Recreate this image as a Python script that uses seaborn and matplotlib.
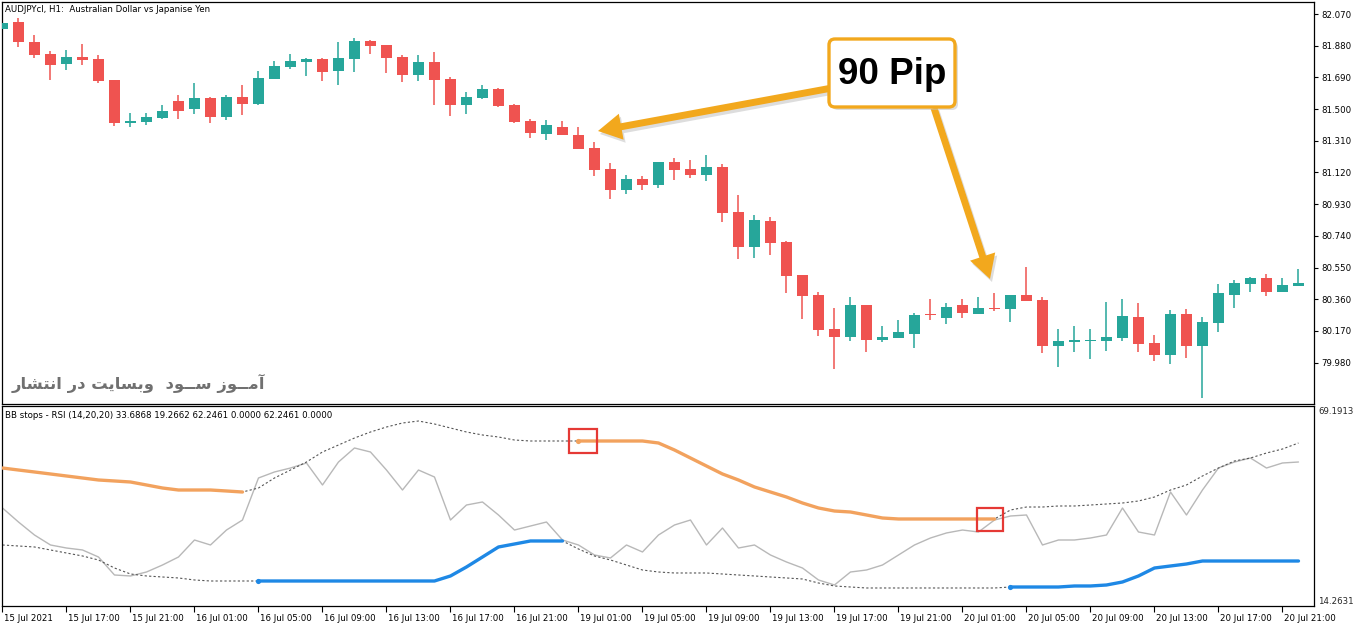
import numpy as np
import pandas as pd
import matplotlib
matplotlib.use("Agg")
import matplotlib.pyplot as plt
import matplotlib.transforms as mtransforms
from matplotlib.patches import FancyArrowPatch, FancyBboxPatch, Rectangle, ArrowStyle
import seaborn as sns

sns.set_theme(style="white")
plt.rcParams['font.family'] = ['DejaVu Sans']

# ---------------- data ----------------
bar_labels = ["15 Jul 2021", "15 Jul 17:00", "15 Jul 21:00", "16 Jul 01:00", "16 Jul 05:00",
              "16 Jul 09:00", "16 Jul 13:00", "16 Jul 17:00", "16 Jul 21:00", "19 Jul 01:00",
              "19 Jul 05:00", "19 Jul 09:00", "19 Jul 13:00", "19 Jul 17:00", "19 Jul 21:00",
              "20 Jul 01:00", "20 Jul 05:00", "20 Jul 09:00", "20 Jul 13:00", "20 Jul 17:00",
              "20 Jul 21:00"]

opens = [81.980, 82.022, 81.902, 81.832, 81.772, 81.812, 81.800, 81.674, 81.417, 81.424,
         81.448, 81.548, 81.502, 81.566, 81.454, 81.572, 81.532, 81.682, 81.754, 81.784,
         81.800, 81.730, 81.802, 81.908, 81.884, 81.812, 81.706, 81.782, 81.682, 81.526,
         81.568, 81.619, 81.524, 81.430, 81.352, 81.393, 81.345, 81.267, 81.141, 81.015,
         81.081, 81.047, 81.183, 81.141, 81.107, 81.153, 80.883, 80.675, 80.831, 80.703,
         80.505, 80.385, 80.181, 80.135, 80.325, 80.116, 80.129, 80.153, 80.273, 80.249,
         80.325, 80.273, 80.307, 80.303, 80.385, 80.355, 80.081, 80.106, 80.111, 80.111,
         80.128, 80.253, 80.097, 80.027, 80.271, 80.081, 80.219, 80.387, 80.453, 80.487,
         80.403, 80.441]
highs = [82.020, 82.044, 81.946, 81.846, 81.854, 81.892, 81.824, 81.674, 81.478, 81.476,
         81.524, 81.584, 81.658, 81.574, 81.584, 81.644, 81.728, 81.790, 81.830, 81.804,
         81.806, 81.904, 81.926, 81.912, 81.886, 81.826, 81.826, 81.842, 81.690, 81.602,
         81.644, 81.625, 81.530, 81.439, 81.436, 81.430, 81.393, 81.304, 81.175, 81.105,
         81.099, 81.183, 81.207, 81.195, 81.226, 81.171, 80.985, 80.865, 80.855, 80.711,
         80.505, 80.405, 80.309, 80.375, 80.325, 80.199, 80.235, 80.276, 80.361, 80.336,
         80.361, 80.375, 80.399, 80.385, 80.551, 80.375, 80.182, 80.199, 80.182, 80.345,
         80.361, 80.339, 80.146, 80.295, 80.301, 80.253, 80.453, 80.475, 80.495, 80.511,
         80.487, 80.541]
lows = [81.975, 81.870, 81.808, 81.676, 81.734, 81.764, 81.655, 81.400, 81.394, 81.405,
        81.440, 81.440, 81.472, 81.418, 81.434, 81.464, 81.524, 81.682, 81.742, 81.700,
        81.668, 81.646, 81.724, 81.830, 81.716, 81.662, 81.668, 81.526, 81.458, 81.472,
        81.562, 81.514, 81.418, 81.327, 81.313, 81.346, 81.262, 81.101, 80.959, 80.991,
        81.017, 81.029, 81.077, 81.089, 81.071, 80.823, 80.599, 80.605, 80.623, 80.399,
        80.240, 80.141, 79.943, 80.108, 80.045, 80.106, 80.129, 80.070, 80.235, 80.210,
        80.246, 80.273, 80.288, 80.225, 80.351, 80.039, 79.955, 80.045, 80.003, 80.051,
        80.111, 80.045, 79.991, 79.970, 80.009, 79.770, 80.165, 80.309, 80.403, 80.381,
        80.403, 80.441]
closes = [82.016, 81.904, 81.826, 81.766, 81.812, 81.796, 81.670, 81.418, 81.430, 81.452,
          81.488, 81.490, 81.566, 81.454, 81.570, 81.532, 81.686, 81.758, 81.788, 81.800,
          81.724, 81.806, 81.908, 81.880, 81.808, 81.706, 81.782, 81.674, 81.526, 81.572,
          81.619, 81.518, 81.423, 81.358, 81.403, 81.346, 81.262, 81.137, 81.015, 81.081,
          81.047, 81.183, 81.137, 81.107, 81.153, 80.879, 80.675, 80.835, 80.699, 80.501,
          80.381, 80.177, 80.135, 80.325, 80.116, 80.133, 80.162, 80.265, 80.267, 80.313,
          80.279, 80.307, 80.301, 80.385, 80.351, 80.081, 80.110, 80.117, 80.117, 80.133,
          80.259, 80.093, 80.027, 80.271, 80.081, 80.223, 80.397, 80.457, 80.487, 80.403,
          80.445, 80.457]

price_ticks = [82.070, 81.880, 81.690, 81.500, 81.310, 81.120, 80.930, 80.740, 80.550,
               80.360, 80.170, 79.980]

rsi = [41.18, 37.33, 33.76, 31.02, 30.19, 29.65, 27.72, 22.78, 22.51, 23.60,
       25.52, 27.72, 32.39, 31.02, 35.13, 37.88, 49.42, 51.07, 52.16, 53.54,
       47.50, 53.81, 57.66, 56.56, 51.61, 46.12, 51.61, 49.69, 37.88, 42.00,
       42.83, 39.26, 35.13, 36.23, 37.33, 32.39, 31.02, 28.27, 27.45, 31.02,
       29.10, 33.76, 36.51, 37.88, 31.02, 35.68, 30.19, 31.02, 28.27, 26.35,
       24.70, 21.41, 20.03, 23.60, 24.15, 25.52, 28.27, 31.02, 32.94, 34.32,
       35.13, 34.59, 37.88, 38.98, 39.26, 31.02, 32.39, 32.39, 32.94, 33.76,
       41.18, 34.59, 33.76, 45.57, 39.26, 46.12, 52.16, 53.81, 54.91, 52.16,
       53.54, 53.81]

upper_band = [52.16, 51.61, 51.07, 50.52, 49.97, 49.42, 48.87, 48.60, 48.32, 47.50,
              46.67, 46.12, 46.12, 46.12, 45.85, 45.57, 46.67, 49.42, 51.61, 53.81,
              56.56, 58.48, 60.40, 62.05, 63.42, 64.52, 65.07, 64.25, 63.15, 62.05,
              61.23, 60.68, 59.85, 59.58, 59.58, 59.58, 59.58, 59.58, 59.58, 59.58,
              59.58, 59.03, 57.11, 54.91, 52.71, 50.52, 48.87, 46.95, 45.57, 44.20,
              42.55, 41.18, 40.35, 40.08, 39.26, 38.43, 38.16, 38.16, 38.16, 38.16,
              38.16, 38.16, 38.16, 40.63, 41.45, 41.45, 41.73, 41.73, 42.00, 42.28,
              42.55, 43.10, 44.20, 46.12, 47.50, 49.97, 52.16, 54.09, 54.91, 56.28,
              57.38, 59.03]

lower_band = [31.02, 30.74, 30.47, 29.65, 28.82, 28.00, 26.90, 24.70, 23.06, 22.51,
              22.23, 21.96, 21.41, 21.13, 21.13, 21.13, 21.13, 21.13, 21.13, 21.13,
              21.13, 21.13, 21.13, 21.13, 21.13, 21.13, 21.13, 21.13, 22.51, 24.98,
              27.72, 30.47, 31.29, 32.12, 32.12, 32.12, 29.92, 28.00, 26.90, 25.52,
              24.15, 23.60, 23.33, 23.33, 23.33, 23.05, 22.78, 22.51, 22.23, 21.96,
              21.68, 20.58, 19.76, 19.48, 19.21, 19.21, 19.21, 19.21, 19.21, 19.21,
              19.21, 19.21, 19.21, 19.48, 19.48, 19.48, 19.48, 19.76, 19.76, 20.03,
              20.86, 22.51, 24.70, 25.25, 25.80, 26.62, 26.62, 26.62, 26.62, 26.62,
              26.62, 26.62]

N = None
sell_stop = [52.16, 51.61, 51.07, 50.52, 49.97, 49.42, 48.87, 48.60, 48.32, 47.50,
             46.67, 46.12, 46.12, 46.12, 45.85, 45.57, N, N, N, N,
             N, N, N, N, N, N, N, N, N, N,
             N, N, N, N, N, N, 59.58, 59.58, 59.58, 59.58,
             59.58, 59.03, 57.11, 54.91, 52.71, 50.52, 48.87, 46.95, 45.57, 44.20,
             42.55, 41.18, 40.35, 40.08, 39.26, 38.43, 38.16, 38.16, 38.16, 38.16,
             38.16, 38.16, 38.16, N, N, N, N, N, N, N,
             N, N, N, N, N, N, N, N, N, N,
             N, N]

buy_stop = [N, N, N, N, N, N, N, N, N, N,
            N, N, N, N, N, N, 21.13, 21.13, 21.13, 21.13,
            21.13, 21.13, 21.13, 21.13, 21.13, 21.13, 21.13, 21.13, 22.51, 24.98,
            27.72, 30.47, 31.29, 32.12, 32.12, 32.12, N, N, N, N,
            N, N, N, N, N, N, N, N, N, N,
            N, N, N, N, N, N, N, N, N, N,
            N, N, N, 19.48, 19.48, 19.48, 19.48, 19.76, 19.76, 20.03,
            20.86, 22.51, 24.70, 25.25, 25.80, 26.62, 26.62, 26.62, 26.62, 26.62,
            26.62, 26.62]

# ---------------- figure ----------------
W, H = 1362, 628
fig = plt.figure(figsize=(W / 100, H / 100), dpi=100, facecolor="white")
pix = mtransforms.Affine2D().scale(1 / W, -1 / H).translate(0, 1) + fig.transFigure

L, R = 2, 1314
ax1 = fig.add_axes([L / W, 1 - 404 / H, (R - L) / W, 402 / H])
ax2 = fig.add_axes([L / W, 1 - 606 / H, (R - L) / W, 200 / H])

TEAL = "#26A69A"
RED = "#EF5350"
ORANGE = "#F2A25E"
BLUE = "#1E88E5"

n = len(opens)
idx = np.arange(n)
o = np.array(opens); c = np.array(closes); h = np.array(highs); lo = np.array(lows)
col = np.where(c >= o, TEAL, RED)
ax1.vlines(idx, lo, h, colors=col, lw=1.1, zorder=2)
ax1.bar(idx, np.maximum(np.abs(c - o), 0.005), bottom=np.minimum(o, c), width=0.66,
        color=col, linewidth=0, zorder=3)

ax1.set_xlim(-0.03, 81.97)
ax1.set_ylim(79.732, 82.142)
ax1.set_xticks([])
ax1.yaxis.tick_right()
ax1.set_yticks(price_ticks)
ax1.set_yticklabels([f"{v:.3f}" for v in price_ticks])
ax1.tick_params(axis="y", direction="out", length=3, width=0.8, pad=2, labelsize=6.2,
                colors="black", right=True, left=False)
ax1.set_xlabel(""); ax1.set_ylabel("")

# ---- indicator panel ----
df = pd.DataFrame({"bar": idx, "rsi": rsi, "upper": upper_band, "lower": lower_band,
                   "sell": pd.array(sell_stop, dtype="Float64").astype(float),
                   "buy": pd.array(buy_stop, dtype="Float64").astype(float)})

sns.lineplot(data=df, x="bar", y="rsi", color="#B8B8B8", lw=1.0, ax=ax2, zorder=2)
sns.lineplot(data=df, x="bar", y="upper", color="#555555", lw=0.8, ls=(0, (2, 2)), ax=ax2, zorder=2)
sns.lineplot(data=df, x="bar", y="lower", color="#555555", lw=0.8, ls=(0, (2, 2)), ax=ax2, zorder=2)


def segments(name):
    s = df[["bar", name]].dropna().copy()
    s["seg"] = (s["bar"].diff() != 1).cumsum()
    return s


for name, colr in (("sell", ORANGE), ("buy", BLUE)):
    s = segments(name)
    sns.lineplot(data=s, x="bar", y=name, units="seg", estimator=None, color=colr,
                 lw=2.4, ax=ax2, zorder=3)
    starts = s.groupby("seg").first()
    starts = starts[starts["bar"] > 0]
    sns.scatterplot(data=starts, x="bar", y=name, color=colr, s=14, linewidth=0,
                    ax=ax2, zorder=4)

ax2.set_xlim(-0.03, 81.97)
ax2.set_ylim(14.2631, 69.1913)
ax2.set_yticks([])
ax2.set_xticks(idx[::4][:len(bar_labels)])
ax2.set_xticklabels(bar_labels, ha="left")
ax2.tick_params(axis="x", direction="out", length=4, width=0.8, pad=1.5, labelsize=6.2,
                colors="black", bottom=True)
off = mtransforms.ScaledTranslation(1.5 / 100, 0, fig.dpi_scale_trans)
for lab in ax2.get_xticklabels():
    lab.set_transform(lab.get_transform() + off)
ax2.set_xlabel(""); ax2.set_ylabel("")

for ax in (ax1, ax2):
    for sp in ax.spines.values():
        sp.set_color("black"); sp.set_linewidth(0.9); sp.set_visible(True)
    ax.grid(False)

# ---- texts ----
fig.text(5, 9, "AUDJPYcl, H1:  Australian Dollar vs Japanise Yen", transform=pix,
         fontsize=6.2, va="center", ha="left", color="black")
fig.text(5, 415, "BB stops - RSI (14,20,20) 33.6868 19.2662 62.2461 0.0000 62.2461 0.0000",
         transform=pix, fontsize=6.2, va="center", ha="left", color="black")
fig.text(1318, 411, "69.1913", transform=pix, fontsize=6.2, va="center", ha="left")
fig.text(1318, 601, "14.2631", transform=pix, fontsize=6.2, va="center", ha="left")

# Persian watermark: pre-shaped Arabic presentation forms, each word drawn right-to-left,
# words laid out as in the reference picture
words = ["\uFE8D\uFEE7\uFE98\uFEB8\uFE8E\uFEAD",          # انتشار
         "\uFEA9\uFEAD",                                  # در
         "\uFEED\uFE91\uFEB4\uFE8E\uFEF3\uFE96",          # وبسایت
         "\uFEB3\u0640\u0640\uFEEE\uFEA9",                # ســود
         "\uFE81\uFEE3\u0640\u0640\uFEEE\uFEAF"]          # آمــوز
watermark = " ".join(w[::-1] for w in words[:3]) + "  " + " ".join(w[::-1] for w in words[3:])
fig.text(12, 383, watermark, transform=pix, fontsize=11.8, fontweight="bold",
         color="#707070", va="center", ha="left", family=["DejaVu Sans"])

# ---- 90 Pip callout ----
astyle = ArrowStyle("Simple", head_length=17, head_width=19, tail_width=5)
for (xa, ya, xb, yb) in ((832, 88, 598, 131), (934, 108, 990, 279)):
    sh = FancyArrowPatch((xa + 2, ya + 3), (xb + 2, yb + 3), transform=pix, arrowstyle=astyle,
                         mutation_scale=1, color="#9E9E9E", alpha=0.35, lw=0,
                         shrinkA=0, shrinkB=0)
    fig.add_artist(sh)
    ar = FancyArrowPatch((xa, ya), (xb, yb), transform=pix, arrowstyle=astyle,
                         mutation_scale=1, color="#F2A81D", lw=0, shrinkA=0, shrinkB=0)
    fig.add_artist(ar)

fig.add_artist(FancyBboxPatch((832, 42), 126, 68, boxstyle="round,pad=0,rounding_size=6",
                              transform=pix, fc="#BDBDBD", ec="none", alpha=0.5))
fig.add_artist(FancyBboxPatch((829, 39), 126, 68, boxstyle="round,pad=0,rounding_size=6",
                              transform=pix, fc="white", ec="#F2A81D", lw=2.4))
fig.text(892, 74, "90 Pip", transform=pix, fontsize=26.5, fontweight="bold",
         family=["Liberation Sans"], ha="center", va="center", color="black")

# red markers on the indicator
for (x0, y0, w, hh) in ((569, 429, 28, 24), (977, 508, 26, 23)):
    fig.add_artist(Rectangle((x0, y0), w, hh, transform=pix, fill=False,
                             ec="#E53935", lw=1.6))

fig.savefig("out.png", dpi=100, facecolor="white")
